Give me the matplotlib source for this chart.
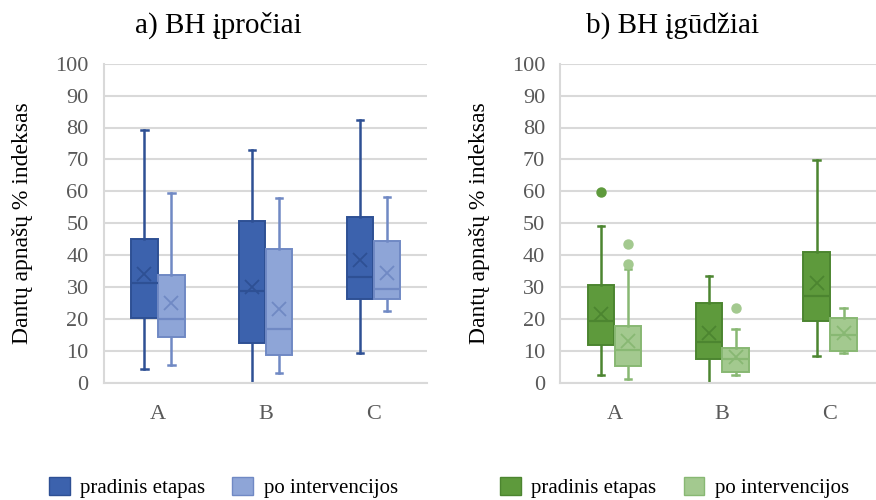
import matplotlib.pyplot as plt
from matplotlib.patches import Patch

plt.rcParams['font.family'] = ['Liberation Serif', 'DejaVu Serif']

cats = ['A', 'B', 'C']
# each tuple: (whisker low, q1, median, mean, q3, whisker high)
a_pre = [(4.4, 20.4, 31.3, 34.2, 45.1, 79.3),
         (0.0, 12.4, 28.8, 30.0, 50.7, 73.0),
         (9.4, 26.1, 33.2, 38.6, 51.9, 82.4)]
a_post = [(5.5, 14.2, 19.9, 25.0, 33.9, 59.5),
          (3.1, 8.6, 16.9, 23.0, 42.0, 58.0),
          (22.5, 26.1, 29.3, 34.4, 44.4, 58.1)]
b_pre = [(2.3, 11.7, 19.3, 21.5, 30.5, 49.0),
         (0.0, 7.3, 12.8, 15.7, 24.9, 33.5),
         (8.5, 19.2, 27.3, 31.1, 41.0, 69.8)]
b_post = [(1.3, 5.3, 10.4, 13.0, 17.9, 35.7),
          (2.3, 3.4, 7.5, 8.1, 11.0, 16.7),
          (9.2, 9.8, 14.8, 15.6, 20.4, 23.5)]
# outliers per category
b_pre_out = [[59.9], [], []]
b_post_out = [[43.5, 37.3], [23.5], []]

titles = ['a) BH įpročiai', 'b) BH įgūdžiai']
ylabel = 'Dantų apnašų % indeksas'
legend_labels = ['pradinis etapas', 'po intervencijos']

blue_dark, blue_dark_edge = '#3C62AD', '#2E5094'
blue_light, blue_light_edge = '#8EA5D7', '#7089C4'
green_dark, green_dark_edge = '#5E9A3C', '#4C8530'
green_light, green_light_edge = '#A3C98F', '#88B873'


def make_stats(rows, outs=None):
    stats = []
    for i, (lo, q1, med, mean, q3, hi) in enumerate(rows):
        stats.append(dict(whislo=lo, q1=q1, med=med, mean=mean, q3=q3, whishi=hi,
                          fliers=(outs[i] if outs else [])))
    return stats


def draw(ax, stats, offset, face, edge):
    pos = [i + offset for i in range(len(stats))]
    ax.bxp(stats, positions=pos, widths=0.245, patch_artist=True, showmeans=True,
           boxprops=dict(facecolor=face, edgecolor=edge, linewidth=1.4),
           medianprops=dict(color=edge, linewidth=1.6),
           whiskerprops=dict(color=edge, linewidth=1.8),
           capprops=dict(color=edge, linewidth=1.8),
           capwidths=0.06,
           meanprops=dict(marker='x', markersize=10, markeredgewidth=1.3,
                          markeredgecolor=edge, markerfacecolor=edge),
           flierprops=dict(marker='o', markersize=6.5, markerfacecolor=face,
                           markeredgecolor=face))


fig = plt.figure(figsize=(8.76, 5), dpi=100)
ax1 = fig.add_axes([0.1187, 0.2346, 0.3693, 0.638])
ax2 = fig.add_axes([0.6398, 0.2346, 0.3693, 0.638])

draw(ax1, make_stats(a_pre), -0.125, blue_dark, blue_dark_edge)
draw(ax1, make_stats(a_post), 0.125, blue_light, blue_light_edge)
draw(ax2, make_stats(b_pre, b_pre_out), -0.125, green_dark, green_dark_edge)
draw(ax2, make_stats(b_post, b_post_out), 0.125, green_light, green_light_edge)

for ax in [ax1, ax2]:
    ax.set_xlim(-0.5, 2.5)
    ax.set_ylim(0, 100)
    ax.set_yticks(range(0, 101, 10))
    ax.set_xticks(range(len(cats)))
    ax.set_xticklabels(cats)
    ax.yaxis.grid(True, color='#D9D9D9', linewidth=1.5)
    ax.set_axisbelow(True)
    for s in ['top', 'right']:
        ax.spines[s].set_visible(False)
    for s in ['left', 'bottom']:
        ax.spines[s].set_color('#D9D9D9')
        ax.spines[s].set_linewidth(1.5)
    ax.tick_params(axis='both', length=0, labelsize=16, labelcolor='#595959')
    ax.tick_params(axis='x', pad=16)
    ax.tick_params(axis='y', pad=11)
    ax.set_ylabel(ylabel, fontsize=17, labelpad=16)

# titles are centred over the whole chart block, including the y label
fig.text(0.249, 0.934, titles[0], fontsize=21, ha='center', va='baseline')
fig.text(0.768, 0.934, titles[1], fontsize=21, ha='center', va='baseline')

fig.legend(handles=[Patch(facecolor=blue_dark, edgecolor=blue_dark_edge),
                    Patch(facecolor=blue_light, edgecolor=blue_light_edge)],
           labels=legend_labels, loc='center', bbox_to_anchor=(0.255, 0.025),
           ncol=2, frameon=False, fontsize=15, handlelength=1.0, handleheight=1.0,
           handletextpad=0.5, columnspacing=1.3)
fig.legend(handles=[Patch(facecolor=green_dark, edgecolor=green_dark_edge),
                    Patch(facecolor=green_light, edgecolor=green_light_edge)],
           labels=legend_labels, loc='center', bbox_to_anchor=(0.77, 0.025),
           ncol=2, frameon=False, fontsize=15, handlelength=1.0, handleheight=1.0,
           handletextpad=0.5, columnspacing=1.3)

fig.savefig('out.png', dpi=100)
